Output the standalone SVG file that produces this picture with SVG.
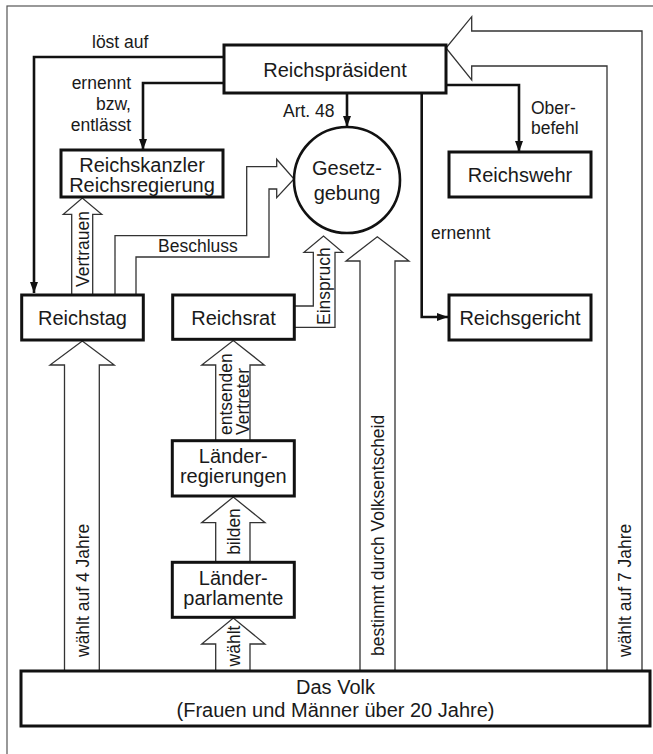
<svg xmlns="http://www.w3.org/2000/svg" width="653" height="754" viewBox="0 0 653 754">
<style>
text{font-family:"Liberation Sans",Arial,sans-serif;fill:#1a1a1a}
.big{font-size:20px;text-anchor:middle}
.lbl{font-size:17.5px}
.box{fill:#fff;stroke:#111;stroke-width:3}
.hol{fill:#fff;stroke:#333;stroke-width:1.3;stroke-linejoin:miter}
.thk{fill:none;stroke:#111;stroke-width:2.6}
</style>
<defs>
<marker id="ah" viewBox="0 0 11 8" refX="11" refY="4" markerWidth="11" markerHeight="8" orient="auto" markerUnits="userSpaceOnUse">
<path d="M0,0 L11,4 L0,8 z" fill="#111"/>
</marker>
</defs>
<rect x="0" y="0" width="653" height="754" fill="#fff"/>
<rect x="7" y="6" width="670" height="770" fill="none" stroke="#555" stroke-width="1.2"/>

<g id="connectors">
<polyline class="hol" points="71.7,295 71.7,214.3 63.3,214.3 82.3,198 101.7,214.3 92.7,214.3 92.7,295"/>
<polyline class="hol" points="115,295 115,235.7 246.7,235.7 246.7,166.7 276.7,166.7 276.7,159.3 294,179 276.7,197.7 276.7,189 269,189 269,257 136,257 136,295"/>
<polyline class="hol" points="294.3,306 313.3,306 313.3,252.3 304,252.3 323.5,236 342.7,252.3 335,252.3 335,327.3 294.3,327.3"/>
<polyline class="hol" points="360,671 360,261 346,261 377.3,236.7 409,261 395,261 395,671"/>
<polyline class="hol" points="64.5,671 64.5,365 50,365 82.3,341 114.3,365 99.3,365 99.3,671"/>
<polyline class="hol" points="215.7,441 215.7,365 201.7,365 233.3,340.5 264.3,365 250,365 250,441"/>
<polyline class="hol" points="215.7,562 215.7,522.7 201.7,522.7 233.3,497 265,522.7 250,522.7 250,562"/>
<polyline class="hol" points="215.7,671 215.7,644 201.7,644 233.3,618 265,644 250,644 250,671"/>
<polyline class="hol" points="607,671 607,66 471.7,66 471.7,80 446,48 471.7,16.7 471.7,31 642,31 642,671"/>

<path class="thk" d="M224,57 H34 V293" marker-end="url(#ah)"/>
<path class="thk" d="M224,83 H143 V150" marker-end="url(#ah)"/>
<path class="thk" d="M347,93 V127" marker-end="url(#ah)"/>
<path class="thk" d="M446,85 H519 V152" marker-end="url(#ah)"/>
<path class="thk" d="M421.7,93 V317 H448" marker-end="url(#ah)"/>

<text class="lbl" x="92" y="48">löst auf</text>
<text class="lbl" text-anchor="end"><tspan x="131" y="89">ernennt</tspan><tspan x="131" y="110">bzw,</tspan><tspan x="131" y="131">entlässt</tspan></text>
<text class="lbl" x="283" y="117">Art. 48</text>
<text class="lbl"><tspan x="531" y="114">Ober-</tspan><tspan x="531" y="134">befehl</tspan></text>
<text class="lbl" x="431" y="239">ernennt</text>
<text class="lbl" x="158" y="251.5">Beschluss</text>
<text class="lbl" text-anchor="middle" transform="translate(88.5,249) rotate(-90)">Vertrauen</text>
<text class="lbl" transform="translate(329.5,325) rotate(-90)">Einspruch</text>
<text class="lbl" transform="translate(231.5,435) rotate(-90)">entsenden</text>
<text class="lbl" transform="translate(249,435) rotate(-90)">Vertreter</text>
<text class="lbl" text-anchor="middle" transform="translate(239.5,531.5) rotate(-90)">bilden</text>
<text class="lbl" text-anchor="middle" transform="translate(239.5,646) rotate(-90)">wählt</text>
<text class="lbl" transform="translate(88.5,657) rotate(-90)">wählt auf 4 Jahre</text>
<text class="lbl" transform="translate(384,656) rotate(-90)">bestimmt durch Volksentscheid</text>
<text class="lbl" transform="translate(631,657) rotate(-90)">wählt auf 7 Jahre</text>
</g>

<g id="reichspraesident">
<rect class="box" x="224" y="45" width="222" height="48"/>
<text class="big" x="335" y="77">Reichspräsident</text>
</g>
<g id="reichskanzler">
<rect class="box" x="61" y="150" width="162" height="47"/>
<text class="big"><tspan x="142" y="171.5">Reichskanzler</tspan><tspan x="142" y="191.5">Reichsregierung</tspan></text>
</g>
<g id="gesetzgebung">
<circle cx="347" cy="180" r="53" fill="#fff" stroke="#111" stroke-width="2.6"/>
<text class="big"><tspan x="347" y="175">Gesetz-</tspan><tspan x="347" y="200">gebung</tspan></text>
</g>
<g id="reichswehr">
<rect class="box" x="449" y="152" width="142" height="45"/>
<text class="big" x="520" y="181.5">Reichswehr</text>
</g>
<g id="reichstag">
<rect class="box" x="21.7" y="295" width="121.6" height="45"/>
<text class="big" x="82.5" y="325">Reichstag</text>
</g>
<g id="reichsrat">
<rect class="box" x="172.7" y="295" width="121.6" height="44.3"/>
<text class="big" x="233.5" y="324.5">Reichsrat</text>
</g>
<g id="reichsgericht">
<rect class="box" x="449" y="295" width="142" height="45"/>
<text class="big" x="520" y="324.5">Reichsgericht</text>
</g>
<g id="laenderregierungen">
<rect class="box" x="172.3" y="440.7" width="122" height="55.3"/>
<text class="big"><tspan x="233.3" y="462.5">Länder-</tspan><tspan x="233.3" y="483.3">regierungen</tspan></text>
</g>
<g id="laenderparlamente">
<rect class="box" x="172.3" y="562.3" width="122" height="55"/>
<text class="big"><tspan x="233.3" y="585">Länder-</tspan><tspan x="233.3" y="605">parlamente</tspan></text>
</g>
<g id="volk">
<rect class="box" x="21" y="671" width="629" height="55"/>
<text class="big"><tspan x="335.5" y="694.3">Das Volk</tspan><tspan x="335.5" y="716.7">(Frauen und Männer über 20 Jahre)</tspan></text>
</g>
</svg>
